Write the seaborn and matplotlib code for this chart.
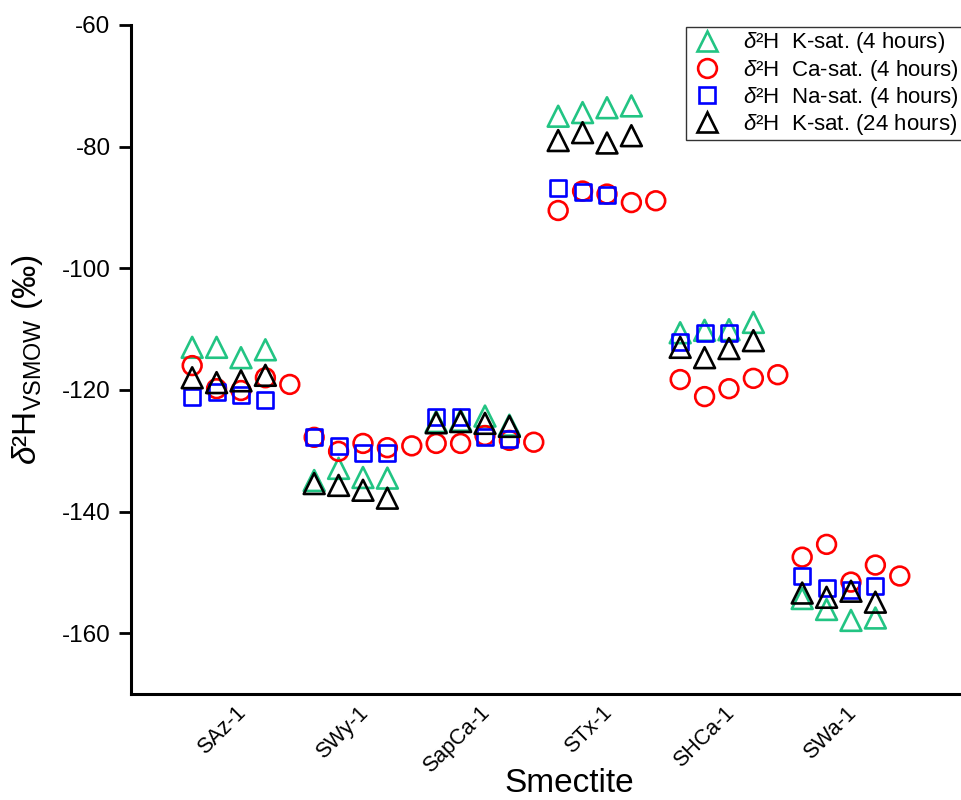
import numpy as np
import pandas as pd
import matplotlib
matplotlib.use("Agg")
import matplotlib.pyplot as plt
from matplotlib.lines import Line2D
from matplotlib.transforms import ScaledTranslation
import seaborn as sns

samples = ["SAz-1", "SWy-1", "SapCa-1", "STx-1", "SHCa-1", "SWa-1"]

k_sat_4h = [
    [-113.0, -113.0, -114.7, -113.4],
    [-134.9, -132.9, -134.4, -134.5],
    [-125.2, -125.0, -124.3, -125.8],
    [-75.0, -74.4, -73.6, -73.3],
    [-110.6, -110.2, -110.1, -108.9],
    [-154.3, -156.1, -157.9, -157.5],
]
ca_sat_4h = [
    [-116.0, -119.8, -120.1, -118.0, -119.1],
    [-127.8, -130.1, -128.8, -129.5, -129.2],
    [-128.8, -128.8, -127.5, -128.3, -128.6],
    [-90.5, -87.3, -87.8, -89.2, -88.9],
    [-118.3, -121.1, -119.8, -118.1, -117.5],
    [-147.5, -145.4, -151.6, -148.8, -150.6],
]
na_sat_4h = [
    [-121.2, -120.3, -120.8, -121.6],
    [-127.8, -129.3, -130.3, -130.4],
    [-124.5, -124.5, -127.8, -128.1],
    [-86.8, -87.4, -87.9],
    [-112.1, -110.7, -110.6],
    [-150.6, -152.6, -152.9, -152.3],
]
k_sat_24h = [
    [-118.0, -118.8, -118.5, -117.6],
    [-135.4, -135.7, -136.5, -137.8],
    [-125.4, -125.2, -125.5, -126.0],
    [-79.0, -77.7, -79.4, -78.2],
    [-113.0, -114.7, -113.2, -111.9],
    [-153.4, -154.1, -153.1, -154.9],
]

series_names = ["K-sat. (4 hours)", "Ca-sat. (4 hours)", "Na-sat. (4 hours)", "K-sat. (24 hours)"]
series_data = [k_sat_4h, ca_sat_4h, na_sat_4h, k_sat_24h]
series_colors = ["#22C483", "#FF0000", "#0000FF", "#000000"]
series_markers = ["^", "o", "s", "^"]
series_sizes = [15, 13.5, 11.5, 15]

rows = []
for name, data in zip(series_names, series_data):
    for ci, vals in enumerate(data):
        for ri, v in enumerate(vals):
            rows.append({"series": name, "cat": ci, "rep": ri, "value": v})
df = pd.DataFrame(rows)
df["x"] = df["cat"] + (df["rep"] - 2) * 0.2

sns.set_style("ticks")
plt.rcParams["font.family"] = ["Liberation Sans", "DejaVu Sans"]
plt.rcParams["mathtext.fontset"] = "custom"
plt.rcParams["mathtext.rm"] = "Liberation Sans"
plt.rcParams["mathtext.it"] = "Liberation Sans:italic"
plt.rcParams["axes.unicode_minus"] = False
for key in ["text.color", "axes.labelcolor", "xtick.color", "ytick.color", "axes.edgecolor"]:
    plt.rcParams[key] = "black"

fig = plt.figure(figsize=(9.62, 8.0), dpi=100)
ax = fig.add_axes([130.7 / 962, 1 - 694 / 800, 1 - 130.7 / 962, (694 - 25) / 800])

for name, col, mk, ms in zip(series_names, series_colors, series_markers, series_sizes):
    sub = df[df["series"] == name]
    sns.scatterplot(data=sub, x="x", y="value", ax=ax, marker=mk, s=ms ** 2,
                    color=col, facecolors="none", edgecolor=col, linewidth=1.9,
                    legend=False, zorder=3)

ax.set_xlim(-0.904, 5.91)
ax.set_ylim(-170, -60)
ax.set_yticks(np.arange(-160, -59, 20))
ax.set_xticks(range(len(samples)))
ax.set_xticklabels(samples, rotation=45, ha="right", rotation_mode="anchor", fontsize=15.5)
ax.tick_params(axis="y", labelsize=17.5, length=8.5, width=2.0, direction="out", pad=6)
ax.tick_params(axis="x", length=0, pad=6)
offset = ScaledTranslation(-4 / 72, 0, fig.dpi_scale_trans)
for lab in ax.get_xticklabels():
    lab.set_transform(lab.get_transform() + offset)

for side in ["top", "right"]:
    ax.spines[side].set_visible(False)
for side in ["left", "bottom"]:
    ax.spines[side].set_linewidth(2.2)
    ax.spines[side].set_color("black")

ax.set_xlabel("Smectite", fontsize=24)
ax.xaxis.set_label_coords(0.528, -0.110)
ax.set_ylabel(r"$\delta$²H$_{\mathregular{VSMOW}}$ (‰)", fontsize=24)
ax.yaxis.set_label_coords(-0.103, 0.5)

handles = [Line2D([], [], linestyle="none", marker=mk, markersize=ms, markerfacecolor="none",
                  markeredgecolor=col, markeredgewidth=1.9)
           for col, mk, ms in zip(series_colors, series_markers, series_sizes)]
labels = [r"$\delta$²H  " + n for n in series_names]
leg = ax.legend(handles, labels, loc="upper right", bbox_to_anchor=(1.0, 0.997),
                fontsize=16, frameon=True, fancybox=False, borderpad=0.15,
                labelspacing=0.1, handletextpad=0.8, handlelength=1.6, borderaxespad=0.0)
leg.get_frame().set_edgecolor("black")
leg.get_frame().set_linewidth(1.0)

fig.savefig("out.png", dpi=100)
